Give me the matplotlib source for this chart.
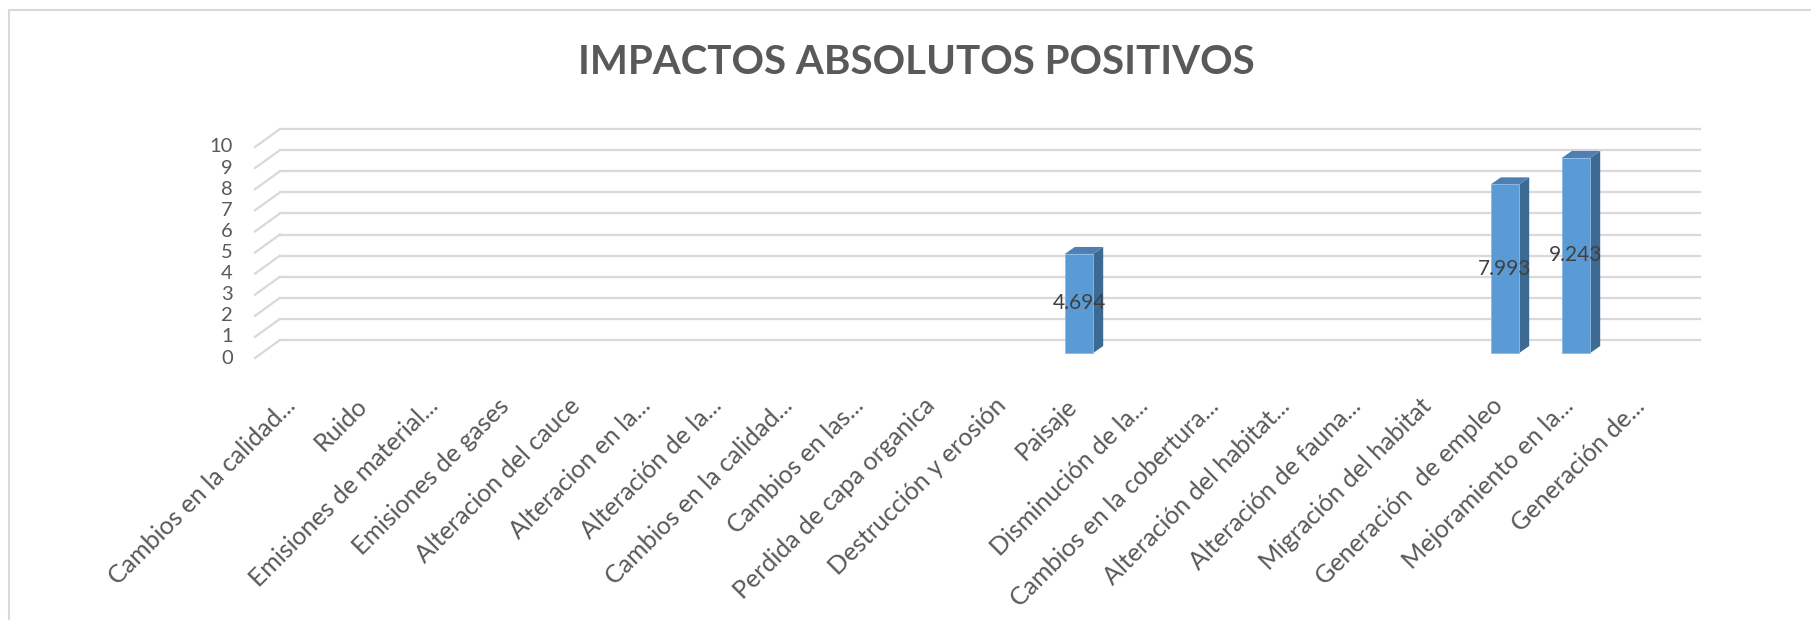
import numpy as np
import matplotlib
matplotlib.use("Agg")
import matplotlib.pyplot as plt
from matplotlib.patches import Rectangle, Polygon
from matplotlib.lines import Line2D

categories = [
    "Cambios en la calidad...", "Ruido", "Emisiones de material...",
    "Emisiones de gases", "Alteracion del cauce", "Alteracion en la...",
    "Alteración de la...", "Cambios en la calidad...", "Cambios en las...",
    "Perdida de capa organica", "Destrucción y erosión", "Paisaje",
    "Disminución de la...", "Cambios en la cobertura...",
    "Alteración del habitat...", "Alteración de fauna...",
    "Migración del habitat", "Generación  de empleo",
    "Mejoramiento en la...", "Generación de...",
]
values = [0, 0, 0, 0, 0, 0, 0, 0, 0, 0, 0, 4.694, 0, 0, 0, 0, 0, 7.993, 9.243, 0]
yticks = list(range(0, 11))
title = "IMPACTOS ABSOLUTOS POSITIVOS"

W, H, DPI = 1811, 620, 100
FONT = "Lato"
GRID = "#D9D9D9"
TXT = "#595959"
FRONT, SIDE, TOP = "#5B9BD5", "#3D6A92", "#4C7FB3"

fig = plt.figure(figsize=(W / DPI, H / DPI), dpi=DPI)

# plot area in pixels (from top): x 262.5..1682.5, value 0 at 353, value 10 at 142
ax = fig.add_axes([262.5 / W, (H - 353) / H, 1420 / W, 211 / H])
ax.set_xlim(-0.5, len(categories) - 0.5)
ax.set_ylim(0, 10)
ax.axis("off")

sx = 1420 / len(categories)      # px per category
sy = 211 / 10                    # px per unit
back = (17.5 / sx, 13 / sy)      # back wall offset (data units)
front = (-7.5 / sx, -5 / sy)     # front floor edge
depth = (10 / sx, 7 / sy)        # bar depth
x0, x1 = -0.5, len(categories) - 0.5

# gridlines on back wall + diagonal on side wall
for v in yticks:
    ax.add_line(Line2D([x0 + back[0], x1 + back[0]], [v + back[1], v + back[1]],
                       color=GRID, lw=1.6, clip_on=False, zorder=1))
    ax.add_line(Line2D([x0 + front[0], x0 + back[0]], [v + front[1], v + back[1]],
                       color=GRID, lw=1.6, clip_on=False, zorder=1))
    ax.annotate(str(v), xy=(x0 + front[0], v + front[1]), xytext=(-22, 0),
                textcoords="offset pixels", ha="right", va="center",
                fontsize=14.5, color=TXT, family=FONT, annotation_clip=False)

# bars (pseudo 3d)
bw = 0.4
for i, v in enumerate(values):
    if v <= 0:
        continue
    l, r = i - bw / 2, i + bw / 2
    ax.add_patch(Polygon([(r, 0), (r + depth[0], depth[1]), (r + depth[0], v + depth[1]), (r, v)],
                         closed=True, fc=SIDE, ec="none", zorder=3, clip_on=False))
    ax.add_patch(Polygon([(l, v), (r, v), (r + depth[0], v + depth[1]), (l + depth[0], v + depth[1])],
                         closed=True, fc=TOP, ec="none", zorder=3, clip_on=False))
    ax.add_patch(Rectangle((l, 0), bw, v, fc=FRONT, ec="#8DB8E2", lw=0.6, zorder=4, clip_on=False))
    ax.text(i, v / 2, f"{v:.3f}", ha="center", va="center", fontsize=15,
            color="#404040", family=FONT, zorder=5)

# category labels
for i, c in enumerate(categories):
    ax.annotate(c, xy=(i, 0), xytext=(-6, -49), textcoords="offset pixels",
                rotation=45, rotation_mode="anchor", ha="right", va="center",
                fontsize=18, color=TXT, family=FONT, annotation_clip=False)

fig.text(916 / W, 1 - 63 / H, title, ha="center", va="center", fontsize=29,
         fontweight="bold", color=TXT, family=FONT)

# chart border (left and top visible)
fig.add_artist(Line2D([9 / W, 9 / W], [0, 1 - 10 / H], color=GRID, lw=1.5, transform=fig.transFigure))
fig.add_artist(Line2D([9 / W, 1], [1 - 10 / H, 1 - 10 / H], color=GRID, lw=1.5, transform=fig.transFigure))

fig.savefig("out.png", dpi=DPI, facecolor="white")
